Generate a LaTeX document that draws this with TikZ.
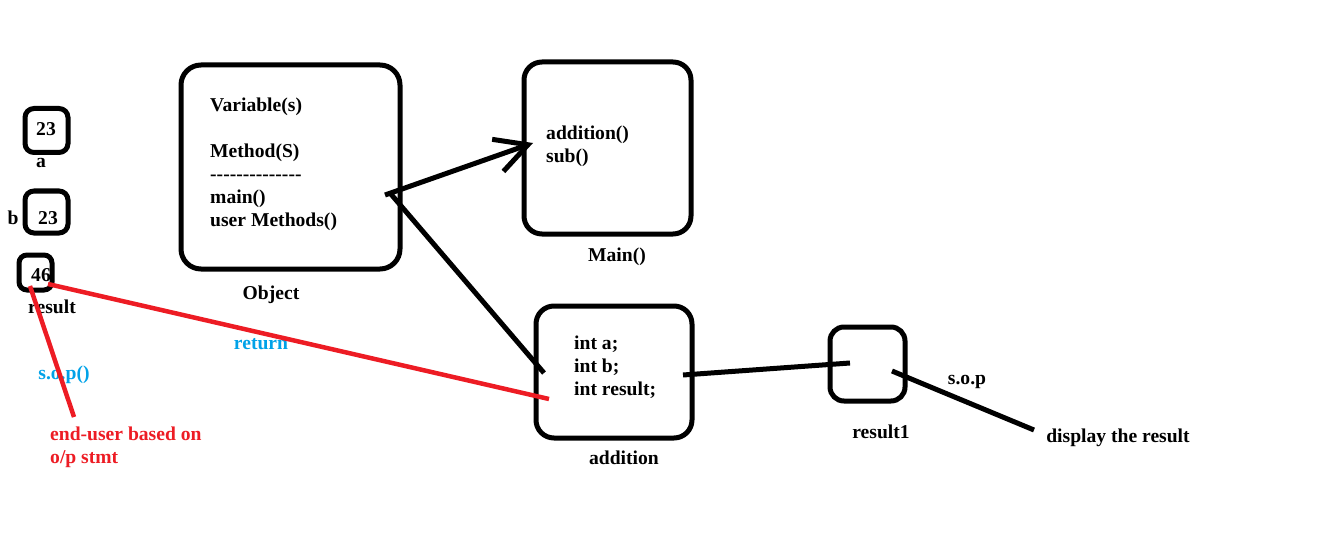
\documentclass[tikz,border=0pt]{standalone}
\usepackage{fontspec}
\setmainfont{Liberation Serif}[Ligatures={}]
\usetikzlibrary{arrows.meta}
\definecolor{pred}{RGB}{237,28,36}
\definecolor{pblue}{RGB}{0,162,232}
\tikzset{
  box/.style={draw=black, line width=5pt, rounded corners=#1, inner sep=0pt},
  box/.default=9pt,
  txt/.style={font=\bfseries\fontsize{19.6}{23}\selectfont, inner sep=0pt, align=left},
  conn/.style={line width=5pt},
  rconn/.style={line width=4.5pt, draw=pred},
}
\begin{document}
\begin{tikzpicture}[x=1pt, y=-1pt]
\useasboundingbox (0,0) rectangle (1340,540);

% variable boxes on the left
\node[box, minimum width=43pt, minimum height=44pt] (a) at (46.5,130.5) {};
\node[txt] (aval) at (46,129) {23};
\node[txt] (alab) at (41,163) {a};

\node[box, minimum width=43pt, minimum height=42pt] (b) at (46.5,212) {};
\node[txt] (bval) at (48,218) {23};
\node[txt] (blab) at (13,218) {b};

\node[box=8pt, minimum width=33pt, minimum height=35pt] (res) at (35.5,272.5) {};
\node[txt] (resval) at (41,275) {46};
\node[txt] (reslab) at (52,307) {result};

% object box
\node[box=20pt, minimum width=219pt, minimum height=204pt] (obj) at (290.5,167) {};
\node[txt, anchor=north west] (objtxt) at (210,98) {Variable(s)\\[23pt]Method(S)\\[0pt]-{}-{}-{}-{}-{}-{}-{}-{}-{}-{}-{}-{}-{}-\\main()\\user Methods()};
\node[txt] (objlab) at (271,295) {Object};

% Main() box
\node[box=18pt, minimum width=167pt, minimum height=172pt] (main) at (607.5,148) {};
\node[txt, anchor=north west] (maintxt) at (546,126) {addition()\\sub()};
\node[txt] (mainlab) at (617,257) {Main()};

% addition box
\node[box=18pt, minimum width=156pt, minimum height=132pt] (add) at (614,372) {};
\node[txt, anchor=north west] (addtxt) at (574,336) {int a;\\int b;\\int result;};
\node[txt] (addlab) at (624,458) {addition};

% result1 box
\node[box=14pt, minimum width=75pt, minimum height=74pt] (r1) at (867.5,364) {};
\node[txt] (r1lab) at (881,432) {result1};

% free labels
\node[txt] (soplab) at (967,382) {s.o.p};
\node[txt] (disp) at (1118,438) {display the result};
\node[txt, text=pblue] (ret) at (261,344) {return};
\node[txt, text=pblue] (sopp) at (64,375) {s.o.p()};
\node[txt, text=pred, anchor=north west] (enduser) at (50,427) {end-user based on\\o/p stmt};

% connector end points
\coordinate (objA) at (385,195);
\coordinate (objB) at (390,193);
\coordinate (mainIn) at (533,143);
\coordinate (addIn) at (544,373);
\coordinate (addOut) at (683,375);
\coordinate (addRet) at (549,399);
\coordinate (r1In) at (850,363);
\coordinate (r1Out) at (892,371);
\coordinate (dispEnd) at (1034,430);
\coordinate (resRet) at (48,284);
\coordinate (resOut) at (30,286);
\coordinate (userEnd) at (74,417);

% black connectors
\draw[conn, -{Straight Barb[length=32pt, width=34pt, line width=5pt]}] (objA) -- (mainIn);
\draw[conn] (objB) -- (addIn);
\draw[conn] (addOut) -- (r1In);
\draw[conn] (r1Out) -- (dispEnd);

% red connectors
\draw[rconn] (resRet) -- (addRet);
\draw[rconn] (resOut) -- (userEnd);
\end{tikzpicture}
\end{document}
